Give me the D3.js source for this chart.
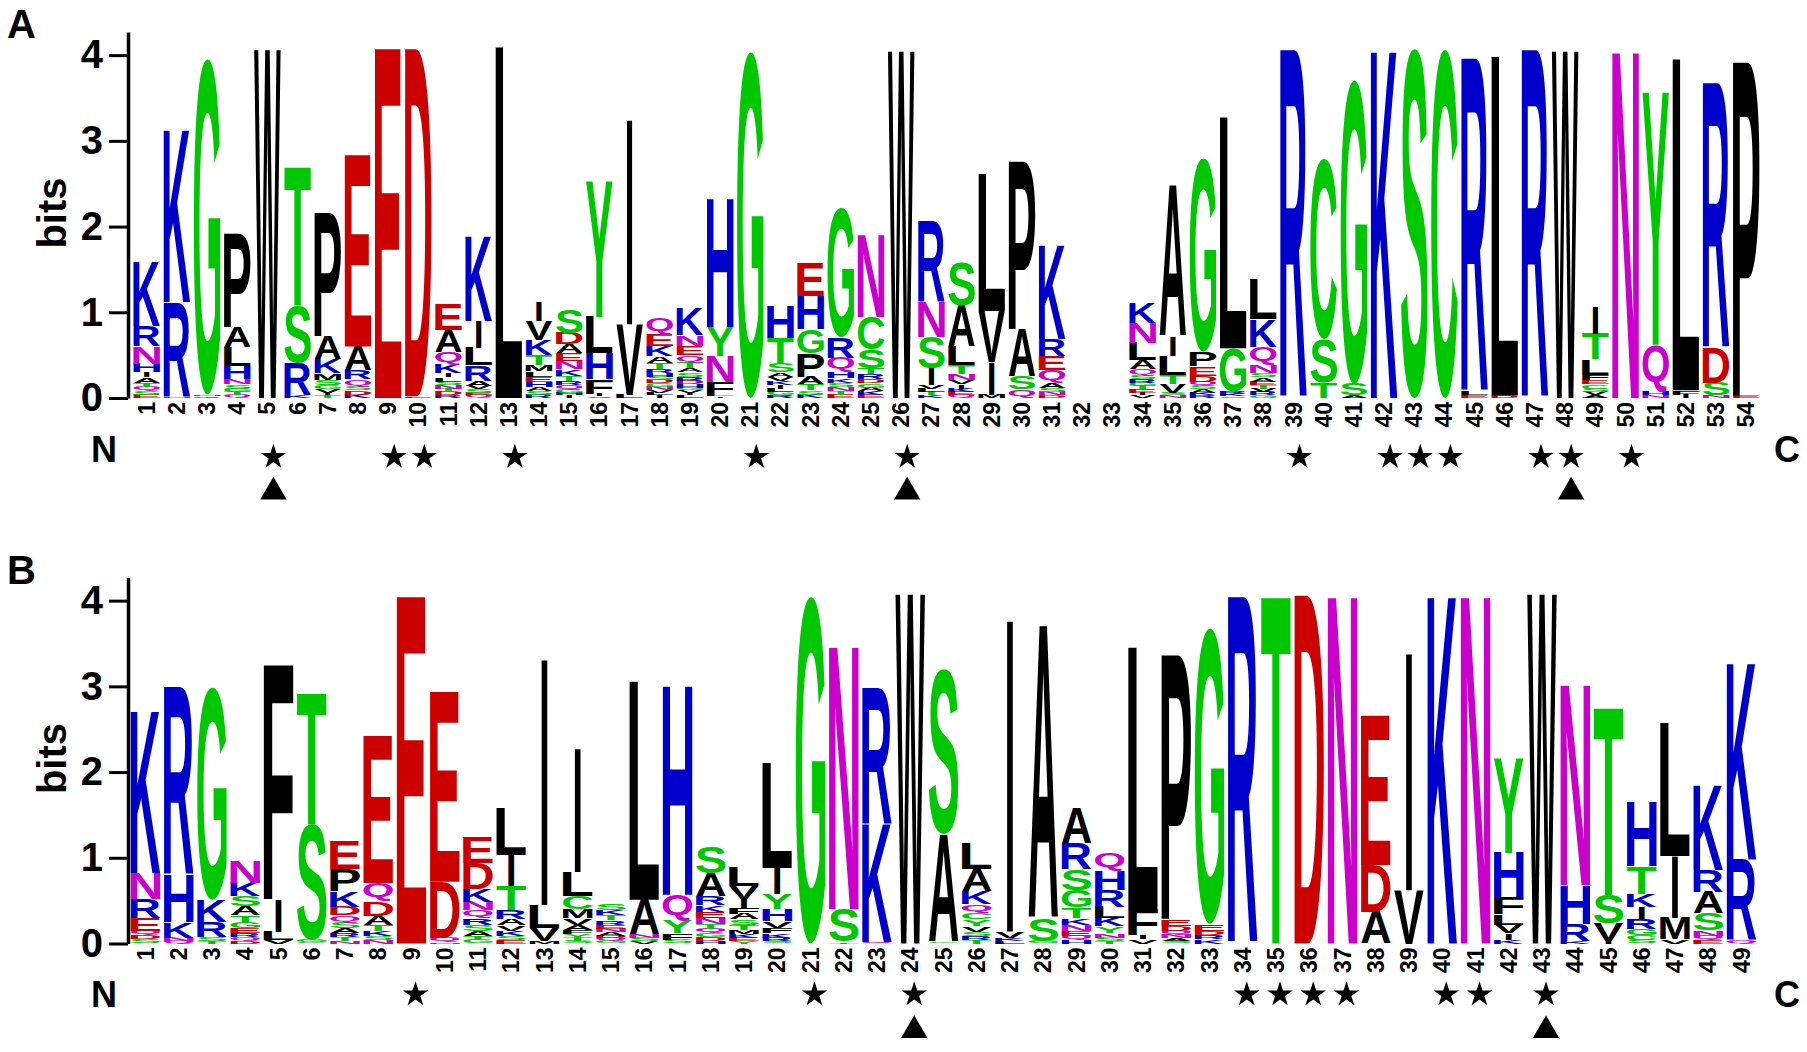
<!DOCTYPE html>
<html lang="en">
<head>
<meta charset="UTF-8">
<title>sequence logos A/B</title>
<script src="https://cdn.jsdelivr.net/npm/d3@7"></script>
<style>
  body { margin:0; background:#fff; }
  svg { display:block; }
  text { font-family: 'Liberation Sans', Arial, Helvetica, sans-serif; font-weight: bold; }
</style>
</head>
<body>
<svg id="fig" width="1807" height="1052"></svg>
<script>

// each position: letters top -> bottom, "letter:bits"
const logoA = [
  "K:0.75 R:0.24 N:0.2 H:0.1 I:0.06 A:0.06 T:0.05 Q:0.05 S:0.04 E:0.04",
  "K:2.02 R:1.1 N:0.02",
  "G:3.92 N:0.02 Q:0.02",
  "P:1.1 A:0.24 L:0.22 H:0.15 N:0.06 S:0.05 G:0.04 T:0.04 Q:0.03",
  "W:4.07",
  "T:1.62 S:0.66 R:0.38 K:0.03",
  "P:1.45 A:0.27 K:0.16 M:0.08 S:0.06 G:0.05 V:0.04 I:0.03 T:0.03",
  "E:2.24 A:0.28 R:0.1 Q:0.08 S:0.05 D:0.05 K:0.04",
  "E:4.08",
  "D:4.06 E:0.02",
  "E:0.3 A:0.25 Q:0.15 K:0.1 I:0.05 L:0.05 S:0.04 N:0.04 T:0.04 D:0.04 R:0.03",
  "K:1.0 I:0.32 L:0.2 R:0.18 A:0.06 V:0.04 S:0.04 E:0.03 Q:0.03",
  "L:4.1",
  "I:0.22 V:0.22 K:0.18 T:0.12 M:0.07 L:0.06 E:0.06 H:0.06 A:0.05 S:0.04 R:0.04",
  "S:0.28 D:0.13 A:0.11 E:0.09 N:0.09 K:0.08 T:0.06 R:0.05 Q:0.05 G:0.04 H:0.03 I:0.03",
  "Y:1.58 L:0.43 H:0.3 F:0.17 I:0.03 V:0.02",
  "I:2.4 V:0.82 L:0.04",
  "Q:0.2 E:0.13 K:0.12 A:0.08 T:0.07 R:0.05 H:0.04 S:0.04 D:0.04 G:0.04 N:0.04 V:0.03 L:0.03 I:0.03",
  "K:0.32 N:0.12 E:0.11 Q:0.08 T:0.07 A:0.05 S:0.05 R:0.05 D:0.04 H:0.04 G:0.03 V:0.03 I:0.03 L:0.03",
  "H:1.5 Y:0.34 N:0.3 F:0.15 L:0.02 I:0.02",
  "G:4.04",
  "H:0.37 T:0.3 S:0.1 A:0.05 V:0.05 K:0.05 I:0.04 L:0.04 G:0.04 R:0.03",
  "E:0.39 H:0.39 G:0.28 P:0.27 A:0.09 T:0.07 S:0.05 K:0.04",
  "G:1.5 R:0.24 Q:0.17 H:0.07 K:0.05 S:0.05 N:0.05 T:0.04 E:0.04",
  "N:0.96 C:0.38 S:0.22 T:0.07 R:0.06 D:0.05 G:0.05 A:0.04 K:0.04 E:0.04",
  "W:4.05",
  "R:0.95 N:0.4 S:0.36 I:0.2 V:0.04 L:0.04 T:0.04 K:0.03",
  "S:0.5 A:0.48 L:0.22 T:0.1 N:0.07 V:0.05 I:0.05 K:0.04 E:0.04 Q:0.03",
  "L:1.6 V:0.6 I:0.38 M:0.04",
  "P:1.97 A:0.55 S:0.15 Q:0.1",
  "K:1.1 R:0.2 E:0.16 Q:0.15 A:0.06 S:0.05 N:0.04 D:0.03",
  "",
  "",
  "K:0.24 N:0.24 L:0.2 A:0.1 Q:0.07 S:0.05 R:0.04 G:0.04 T:0.04 E:0.04 I:0.03 V:0.03",
  "A:1.76 I:0.23 L:0.22 T:0.11 V:0.1 S:0.03 N:0.03",
  "G:2.26 P:0.17 E:0.11 D:0.07 Q:0.05 S:0.04 A:0.04 K:0.03 R:0.03",
  "L:2.7 G:0.5 R:0.03 K:0.03 S:0.02",
  "L:0.46 K:0.32 Q:0.22 N:0.09 S:0.05 A:0.05 E:0.04 T:0.04 V:0.04 R:0.04 G:0.03",
  "R:4.07",
  "C:2.1 S:0.5 T:0.18",
  "G:3.55 S:0.13 A:0.03",
  "K:4.07",
  "S:4.08",
  "C:4.07",
  "R:3.9 L:0.04 E:0.03",
  "L:3.96 D:0.03",
  "R:4.07",
  "W:4.05",
  "I:0.32 T:0.3 L:0.18 F:0.06 E:0.05 C:0.05 S:0.04 V:0.04 A:0.03",
  "N:4.06",
  "Y:2.95 Q:0.55 H:0.04 N:0.03",
  "L:3.87 F:0.05 I:0.04",
  "R:3.1 D:0.4 S:0.15 N:0.03",
  "P:3.92 E:0.03"
];

const logoB = [
  "K:1.9 N:0.3 R:0.22 E:0.15 Q:0.05 D:0.05 S:0.05",
  "R:2.2 H:0.55 K:0.18 N:0.04 Q:0.03",
  "G:2.48 K:0.26 R:0.18 S:0.04 T:0.03",
  "N:0.26 K:0.16 S:0.12 A:0.1 T:0.08 G:0.07 E:0.06 R:0.05 Q:0.04 D:0.03",
  "F:2.75 I:0.38 L:0.1 V:0.04",
  "T:1.54 S:1.35 G:0.03 C:0.02",
  "E:0.32 P:0.26 K:0.18 D:0.1 Q:0.08 S:0.07 A:0.06 R:0.05 T:0.04 N:0.03",
  "E:1.72 Q:0.22 D:0.17 A:0.1 T:0.07 K:0.06 S:0.05 N:0.04",
  "E:4.05",
  "E:2.22 D:0.65 Q:0.05 N:0.02",
  "E:0.3 D:0.3 K:0.15 N:0.1 Q:0.09 R:0.08 S:0.07 A:0.06 T:0.05 G:0.04",
  "L:0.55 I:0.36 T:0.28 R:0.1 A:0.08 V:0.06 K:0.06 S:0.05 E:0.04",
  "I:2.88 L:0.27 V:0.15 M:0.03",
  "I:1.45 L:0.28 C:0.15 M:0.1 V:0.08 A:0.06 F:0.05 Y:0.04 T:0.04 S:0.03",
  "S:0.08 K:0.06 T:0.06 R:0.05 E:0.05 N:0.04 A:0.04 D:0.03 Q:0.03 G:0.03",
  "L:2.55 A:0.4 N:0.04 S:0.04 V:0.03",
  "H:2.45 Q:0.3 Y:0.15 F:0.08 S:0.04",
  "S:0.3 A:0.27 R:0.1 K:0.08 E:0.07 N:0.07 T:0.06 Q:0.05 G:0.05 D:0.04 H:0.03",
  "L:0.22 V:0.15 I:0.1 F:0.07 A:0.07 S:0.06 T:0.06 M:0.05 K:0.04 E:0.04 Y:0.03",
  "L:1.22 I:0.3 Y:0.18 H:0.14 V:0.08 F:0.06 K:0.05 R:0.04 S:0.03",
  "G:4.05",
  "N:3.08 S:0.38 T:0.02",
  "R:1.6 K:1.38 Q:0.02",
  "W:4.08",
  "S:1.92 A:1.25 G:0.02",
  "L:0.3 A:0.26 K:0.15 Q:0.1 C:0.08 Y:0.08 V:0.06 S:0.05 R:0.05 T:0.04",
  "I:3.65 V:0.08 K:0.03 L:0.03",
  "A:3.42 S:0.26 G:0.03",
  "A:0.4 R:0.3 S:0.25 G:0.2 T:0.12 K:0.08 N:0.07 E:0.06 Q:0.05 H:0.04",
  "Q:0.22 H:0.22 R:0.2 L:0.13 K:0.1 Y:0.08 N:0.05 S:0.04 T:0.03",
  "L:3.06 F:0.3 I:0.05 V:0.05",
  "P:3.1 E:0.08 D:0.06 Q:0.05 N:0.04 A:0.03 S:0.03",
  "G:3.45 E:0.08 D:0.05 R:0.05 K:0.05",
  "R:4.05",
  "T:4.07",
  "D:4.07",
  "N:4.07",
  "E:1.75 D:0.55 A:0.37",
  "I:2.78 V:0.62",
  "K:4.07",
  "N:4.07",
  "Y:1.1 H:0.52 F:0.2 L:0.12 V:0.1 I:0.08 K:0.04",
  "W:4.08",
  "N:2.35 H:0.45 R:0.2 K:0.03",
  "T:2.2 S:0.33 V:0.2 I:0.03",
  "H:0.75 T:0.32 K:0.15 I:0.14 R:0.12 G:0.07 C:0.06 S:0.04",
  "L:1.55 I:0.72 M:0.25 V:0.05",
  "K:1.0 R:0.26 A:0.25 S:0.2 N:0.06 Q:0.05 E:0.04",
  "K:2.3 R:0.95 Q:0.03"
];

const starsA  = [5, 9, 10, 13, 21, 26, 39, 42, 43, 44, 47, 48, 50];
const arrowsA = [5, 26, 48];
const starsB  = [9, 21, 24, 34, 35, 36, 37, 40, 41, 43];
const arrowsB = [24, 43];
const yTicks  = [0, 1, 2, 3, 4];

const blue = '#0000cc', green = '#00c800', red = '#cc0000', pink = '#cc00cc';
const letterColor = {K:blue, R:blue, H:blue, G:green, S:green, T:green, Y:green, C:green,
                     N:pink, Q:pink, D:red, E:red};

const svg = d3.select('#fig');

// ink box of a glyph, measured once on a canvas
const FPX = 200;
const ctx = document.createElement('canvas').getContext('2d');
ctx.font = "bold " + FPX + "px 'Liberation Sans'";
const inkCache = {};
function ink(ch) {
  if (!inkCache[ch]) {
    let m = ctx.measureText(ch);
    inkCache[ch] = { l: m.actualBoundingBoxLeft, d: m.actualBoundingBoxDescent,
                     w: m.actualBoundingBoxLeft + m.actualBoundingBoxRight,
                     h: m.actualBoundingBoxAscent + m.actualBoundingBoxDescent };
  }
  return inkCache[ch];
}

function parse(s) {
  return s ? s.split(' ').map(t => { let p = t.split(':'); return {c: p[0], v: +p[1]}; }) : [];
}

function drawPanel(p) {
  let g = svg.append('g').attr('transform', 'translate(0,' + p.dy + ')');
  let y = d3.scaleLinear().domain([0, 4.27]).range([398, 32]);
  let x = d3.scaleLinear().domain([1, p.data.length]).range([p.x1, p.x1 + (p.data.length - 1) * p.step]);

  g.append('text').attr('x', 7).attr('y', 38).attr('font-size', 40).text(p.label);

  let ax = g.append('g').attr('transform', 'translate(128,0)')
    .call(d3.axisLeft(y).tickValues(yTicks).tickFormat(d3.format('d'))
      .tickSize(19).tickSizeOuter(0).tickPadding(6));
  ax.attr('font-size', 40).attr('font-family', null);
  ax.select('.domain').attr('stroke-width', 3.5);
  ax.selectAll('.tick line').attr('stroke-width', 3);

  g.append('text').attr('transform', 'translate(52,213) rotate(-90)')
    .attr('text-anchor', 'middle').attr('dominant-baseline', 'central')
    .attr('font-size', 40).text('bits');

  // letter stacks
  p.data.forEach((s, i) => {
    let acc = 0;
    parse(s).reverse().forEach(d => {
      let yb = y(acc), yt = y(acc + d.v);
      acc += d.v;
      // the I keeps its thin stroke, everything else fills the column
      let h = yb - yt, w = d.c === 'I' ? p.letterW * 0.2 : p.letterW, b = ink(d.c);
      g.append('text')
        .attr('transform', 'translate(' + (x(i + 1) - w / 2) + ',' + yb + ') scale(' + (w / b.w) + ',' + (h / b.h) + ')')
        .attr('x', b.l).attr('y', -b.d)
        .attr('font-size', FPX)
        .attr('fill', letterColor[d.c] || '#000')
        .text(d.c);
    });
  });

  // position numbers
  g.selectAll('text.pos').data(p.data.map((d, i) => i + 1)).enter().append('text')
    .attr('class', 'pos')
    .attr('transform', d => 'translate(' + x(d) + ',402) rotate(-90)')
    .attr('text-anchor', 'end').attr('dominant-baseline', 'central')
    .attr('font-size', 23).text(d => d);

  g.append('text').attr('x', 104).attr('y', 449).attr('text-anchor', 'middle')
    .attr('dominant-baseline', 'central').attr('font-size', 36).text('N');
  g.append('text').attr('x', 1787).attr('y', 449).attr('text-anchor', 'middle')
    .attr('dominant-baseline', 'central').attr('font-size', 36).text('C');

  g.selectAll('path.star').data(p.stars).enter().append('path')
    .attr('class', 'star')
    .attr('transform', d => 'translate(' + (x(d) + p.mark) + ',' + p.starY + ')')
    .attr('d', d3.symbol(d3.symbolStar, 200));
  g.selectAll('path.tri').data(p.arrows).enter().append('path')
    .attr('class', 'tri')
    .attr('transform', d => 'translate(' + (x(d) + p.mark) + ',' + p.triY + ')')
    .attr('d', d3.symbol(d3.symbolTriangle, 300));
}

drawPanel({ label: 'A', dy: 0, data: logoA, x1: 146.7, step: 30.18, letterW: 26.5,
            stars: starsA, arrows: arrowsA, mark: 6, starY: 457, triY: 492 });
drawPanel({ label: 'B', dy: 545.5, data: logoB, x1: 145.5, step: 33.25, letterW: 29.5,
            stars: starsB, arrows: arrowsB, mark: 4, starY: 449, triY: 485 });

</script>
</body>
</html>
